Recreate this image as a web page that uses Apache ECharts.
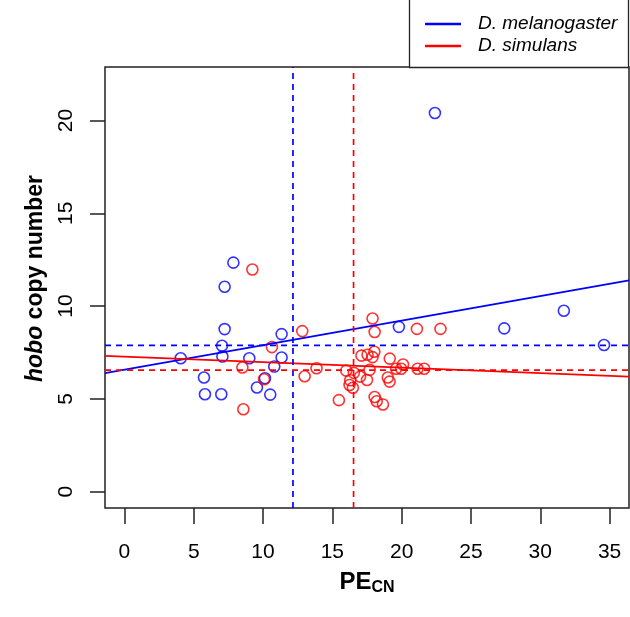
<!DOCTYPE html>
<html><head><meta charset="utf-8">
<script src="https://cdn.jsdelivr.net/npm/echarts@6/dist/echarts.min.js"></script>
<style>html,body{margin:0;padding:0;background:#fff}#c{width:630px;height:617px}</style>
</head><body><div id="c"></div>
<script>
// D. melanogaster points
const melX = [22.4, 27.4, 31.7, 34.6, 19.8, 7.86, 7.23, 7.23, 11.34, 7.04, 4.06, 7.07, 9.01, 11.34, 10.81, 5.74, 10.14, 9.56, 5.81, 6.99, 10.52];
const melY = [20.4, 8.8, 9.75, 7.9, 8.88, 12.34, 11.04, 8.76, 8.49, 7.86, 7.19, 7.28, 7.19, 7.23, 6.74, 6.15, 6.11, 5.61, 5.25, 5.25, 5.23];
// D. simulans points
const simX = [9.23, 12.83, 10.64, 8.51, 10.07, 8.58, 13.86, 13.0, 17.9, 18.05, 21.1, 22.8, 17.1, 17.54, 18.03, 17.9, 19.14, 20.1, 19.6, 19.97, 21.15, 21.63, 16.0, 16.55, 17.0, 17.5, 17.69, 16.29, 16.24, 16.48, 19.0, 19.13, 15.47, 18.05, 18.2, 18.65];
const simY = [11.97, 8.65, 7.79, 6.69, 6.06, 4.44, 6.65, 6.22, 9.33, 8.6, 8.77, 8.77, 7.33, 7.38, 7.54, 7.25, 7.17, 6.85, 6.62, 6.62, 6.62, 6.62, 6.52, 6.4, 6.2, 6.02, 6.56, 6.0, 5.75, 5.6, 6.15, 5.93, 4.93, 5.1, 4.87, 4.7];
// regression fits and means
const melFit = [6.575, 0.132];   // intercept, slope
const simFit = [7.28, -0.0296];
const melMean = [12.16, 7.88];   // x, y
const simMean = [16.53, 6.55];
// axes
const xTicks = [0, 5, 10, 15, 20, 25, 30, 35];
const yTicks = [0, 5, 10, 15, 20];
const xRange = [-1.4, 36.4];
const yRange = [-0.88, 22.88];
const speciesNames = ['D. melanogaster', 'D. simulans'];
const colors = ['#0000ff', '#ff0000'];

const FONT = 'Liberation Sans, Arial, Helvetica, sans-serif';
const zip = (a, b) => a.map((v, i) => [v, b[i]]);
const fitLine = f => xRange.map(x => [x, f[0] + f[1] * x]);
const vLine = m => yRange.map(y => [m[0], y]);
const hLine = m => xRange.map(x => [x, m[1]]);

function pts(name, data, color) {
  return { type: 'scatter', name, data, symbol: 'circle', symbolSize: 11,
    itemStyle: { color: 'rgba(0,0,0,0)', borderColor: color, borderWidth: 1.6 },
    emphasis: { disabled: true }, silent: true, z: 3 };
}
function ln(name, data, color, dashed) {
  return { type: 'line', name, data, symbol: 'none', clip: true, silent: true, z: 4,
    itemStyle: { color },
    lineStyle: { color, width: 1.7, type: dashed ? [6, 5] : 'solid' } };
}

const chart = echarts.init(document.getElementById('c'), null, { renderer: 'canvas' });
chart.setOption({
  animation: false,
  backgroundColor: '#fff',
  textStyle: { fontFamily: FONT },
  grid: { left: 105, right: 1, top: 67, bottom: 109, show: true, borderColor: '#222', borderWidth: 1.5, backgroundColor: 'transparent' },
  xAxis: {
    type: 'value', min: xRange[0], max: xRange[1],
    name: '{a|PE}{s|CN}', nameLocation: 'middle', nameGap: 60,
    nameTextStyle: { rich: {
      a: { fontFamily: FONT, fontWeight: 'bold', fontSize: 24, color: '#000' },
      s: { fontFamily: FONT, fontWeight: 'bold', fontSize: 16, color: '#000', padding: [12, 0, 0, 0] } } },
    axisLine: { show: false, onZero: false },
    axisTick: { show: true, inside: false, length: 16, customValues: xTicks, lineStyle: { color: '#222', width: 1.5 } },
    axisLabel: { customValues: xTicks, margin: 34, fontSize: 21, color: '#000', fontFamily: FONT },
    splitLine: { show: false }
  },
  yAxis: {
    type: 'value', min: yRange[0], max: yRange[1],
    name: '{i|hobo}{b| copy number}', nameLocation: 'middle', nameGap: 58, nameRotate: 90,
    nameTextStyle: { padding: [0, 0, 0, 18], rich: {
      i: { fontFamily: FONT, fontWeight: 'bold', fontStyle: 'italic', fontSize: 23, color: '#000' },
      b: { fontFamily: FONT, fontWeight: 'bold', fontSize: 23, color: '#000' } } },
    axisLine: { show: false, onZero: false },
    axisTick: { show: true, inside: false, length: 15, customValues: yTicks, lineStyle: { color: '#222', width: 1.5 } },
    axisLabel: { customValues: yTicks, margin: 28, rotate: 90, fontSize: 21, color: '#000', fontFamily: FONT },
    splitLine: { show: false }
  },
  legend: {
    orient: 'vertical', left: 425, top: 14, padding: 0, itemGap: 2, z: 60,
    itemWidth: 36, itemHeight: 2.5, selectedMode: false,
    data: speciesNames.map((n, i) => ({ name: n, icon: 'rect', itemStyle: { color: colors[i] } })),
    textStyle: { fontFamily: FONT, fontStyle: 'italic', fontSize: 19, color: '#000', lineHeight: 20, padding: [0, 0, 0, 12] }
  },
  graphic: [{ type: 'rect', shape: { x: 409.5, y: -2, width: 219, height: 69.5 },
    style: { fill: '#fff', stroke: '#222', lineWidth: 1.3 }, z: 50, silent: true }],
  series: [
    pts('mel points', zip(melX, melY), colors[0]),
    pts('sim points', zip(simX, simY), colors[1]),
    ln(speciesNames[0], fitLine(melFit), colors[0], false),
    ln(speciesNames[1], fitLine(simFit), colors[1], false),
    ln('mel mean x', vLine(melMean), colors[0], true),
    ln('mel mean y', hLine(melMean), colors[0], true),
    ln('sim mean x', vLine(simMean), colors[1], true),
    ln('sim mean y', hLine(simMean), colors[1], true)
  ]
});
</script></body></html>
